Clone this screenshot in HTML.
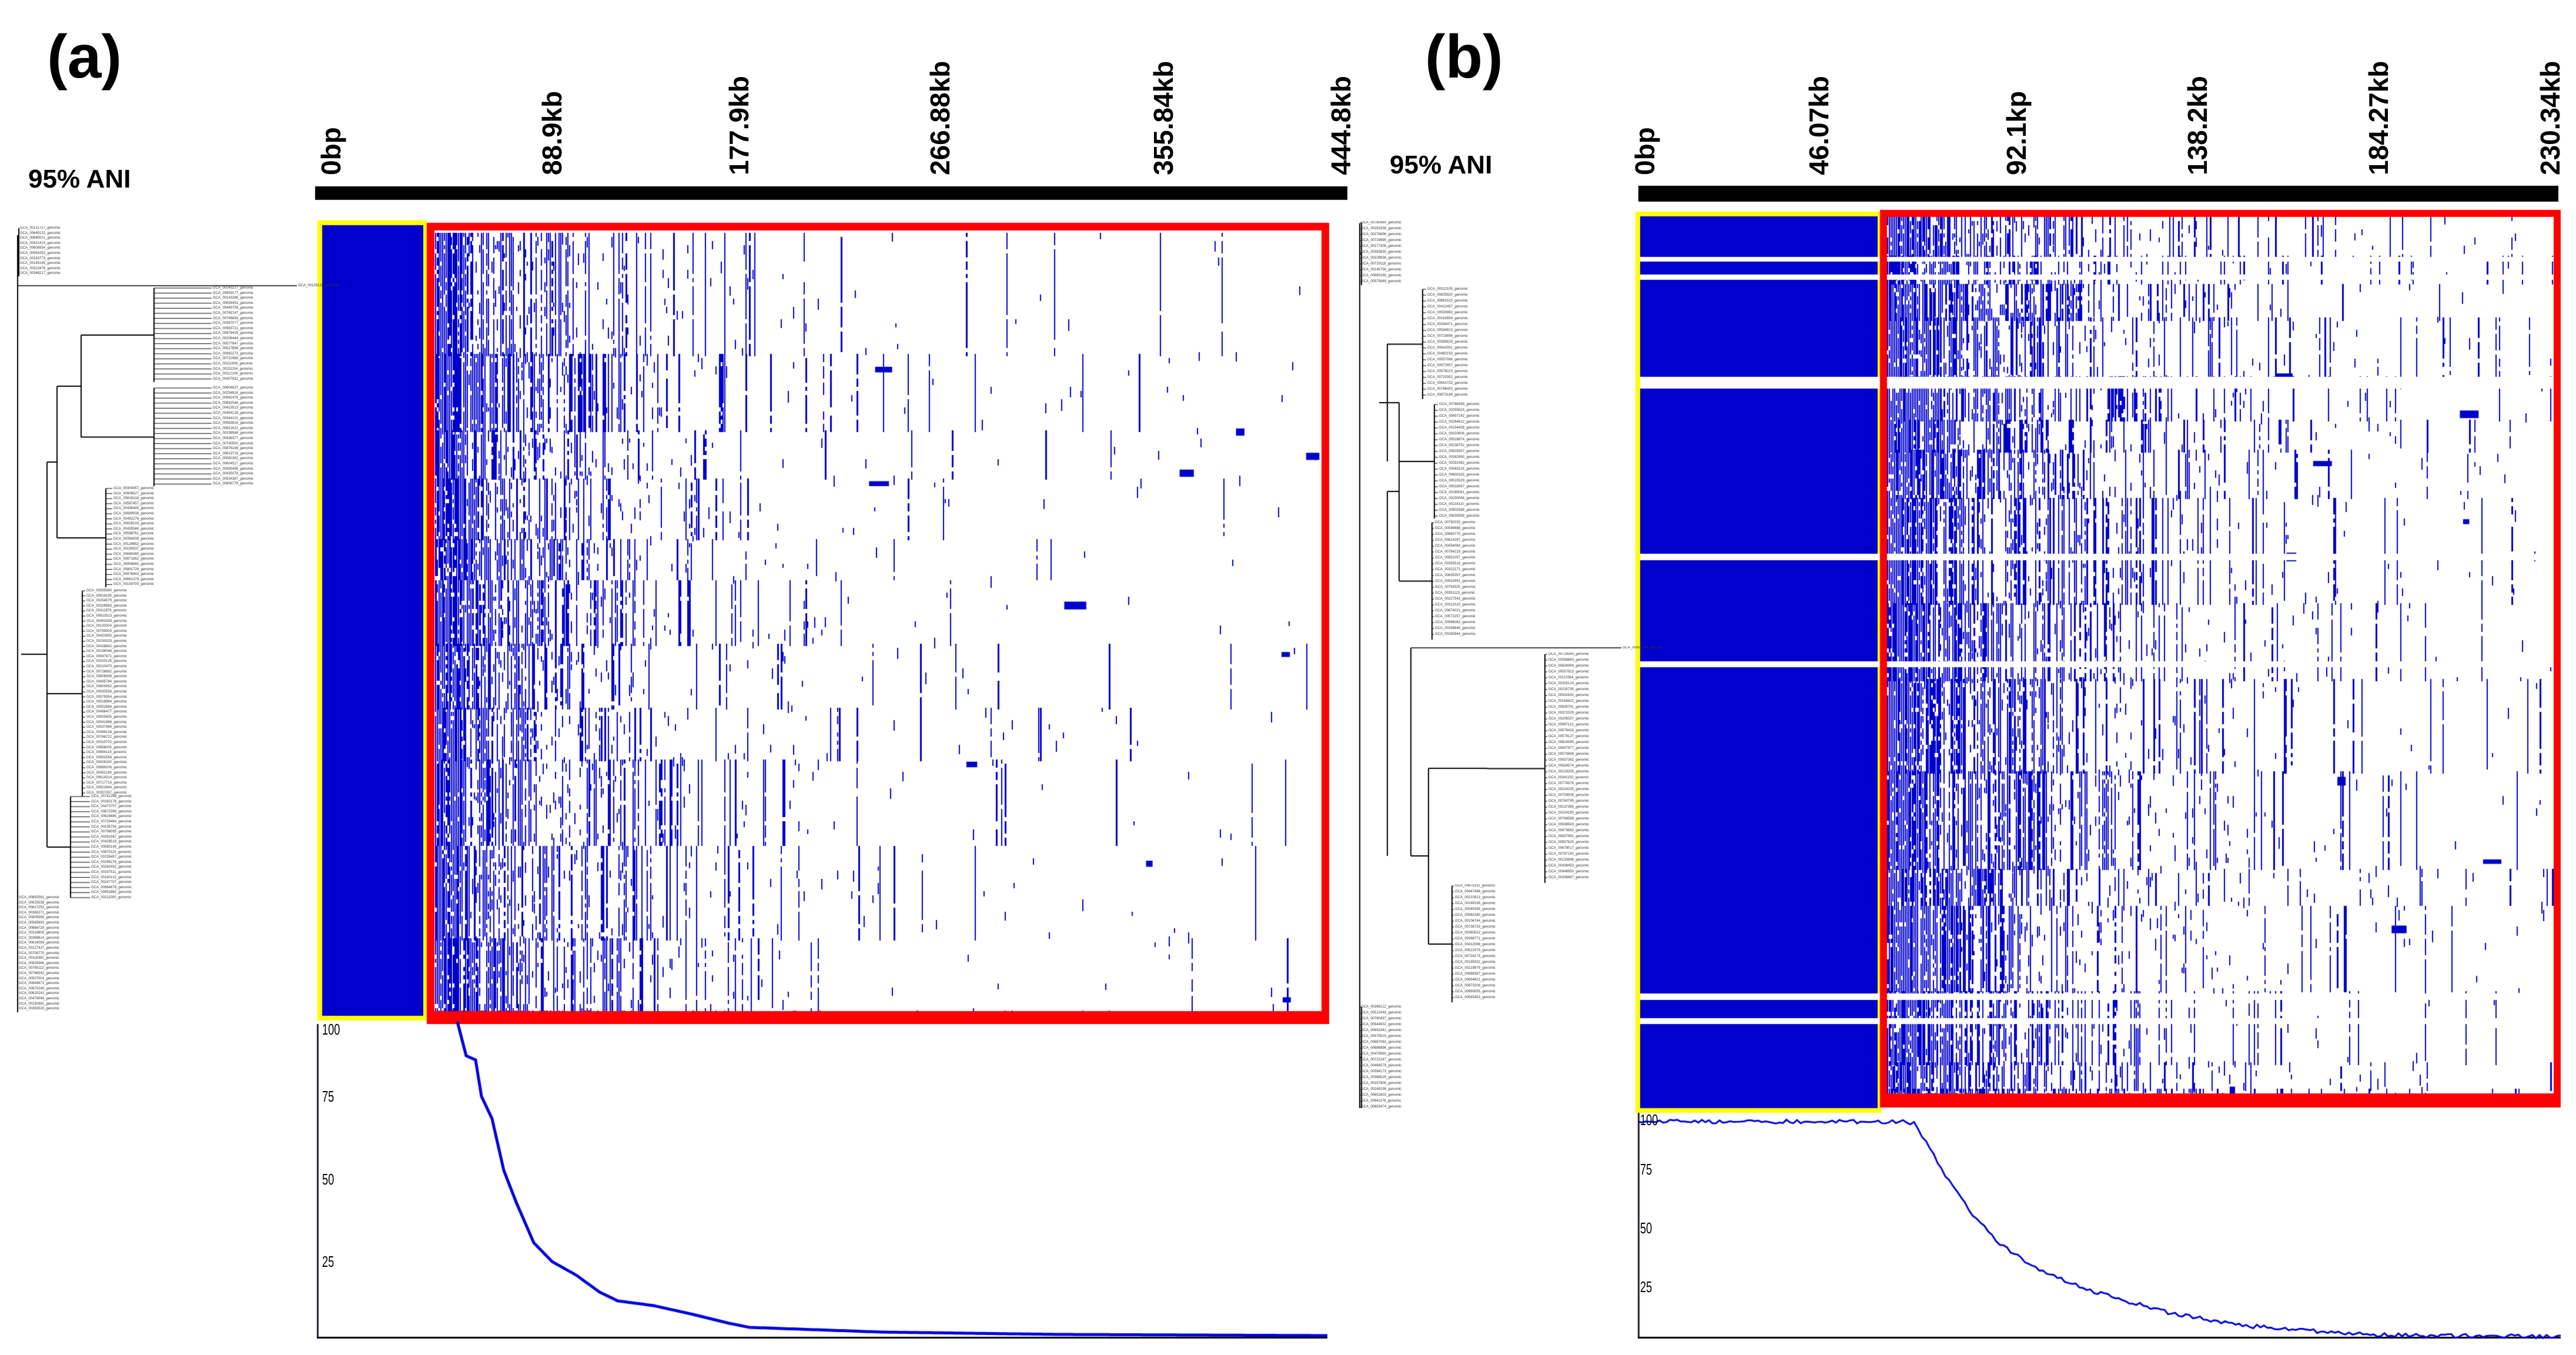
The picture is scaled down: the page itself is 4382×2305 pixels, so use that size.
<!DOCTYPE html>
<html><head><meta charset="utf-8">
<style>
html,body{margin:0;padding:0;background:#fff;}
body{width:4382px;height:2305px;position:relative;overflow:hidden;font-family:"Liberation Sans",sans-serif;}
#cv{position:absolute;left:0;top:0;}
.t{position:absolute;font-weight:bold;color:#000;white-space:nowrap;}
.tick{position:absolute;font-weight:bold;font-size:46px;white-space:nowrap;transform-origin:0 0;transform:rotate(-90deg);}
.ax{position:absolute;font-size:26px;color:#000;transform:scaleX(0.7);transform-origin:0 0;}
#labels{position:absolute;left:0;top:0;}
.lb{position:absolute;font-size:6px;line-height:6px;color:#333;white-space:nowrap;}
</style></head><body>
<canvas id="cv" width="4382" height="2305"></canvas>
<div id="labels"></div>

<div class="t" style="left:80px;top:38px;font-size:104px;">(a)</div>
<div class="t" style="left:48px;top:280px;font-size:44px;">95% ANI</div>
<div class="t" style="left:2424px;top:38px;font-size:104px;">(b)</div>
<div class="t" style="left:2364px;top:256px;font-size:44px;">95% ANI</div>

<div class="tick" style="left:536px;top:298px;">0bp</div>
<div class="tick" style="left:912px;top:298px;">88.9kb</div>
<div class="tick" style="left:1230px;top:298px;">177.9kb</div>
<div class="tick" style="left:1572px;top:298px;">266.88kb</div>
<div class="tick" style="left:1952px;top:298px;">355.84kb</div>
<div class="tick" style="left:2254px;top:298px;">444.8kb</div>

<div class="tick" style="left:2771px;top:298px;">0bp</div>
<div class="tick" style="left:3067px;top:298px;">46.07kb</div>
<div class="tick" style="left:3403px;top:298px;">92.1kp</div>
<div class="tick" style="left:3711px;top:298px;">138.2kb</div>
<div class="tick" style="left:4019px;top:298px;">184.27kb</div>
<div class="tick" style="left:4311px;top:298px;">230.34kb</div>

<div class="ax" style="left:548px;top:1736px;">100</div>
<div class="ax" style="left:548px;top:1850px;">75</div>
<div class="ax" style="left:548px;top:1991px;">50</div>
<div class="ax" style="left:548px;top:2131px;">25</div>

<div class="ax" style="left:2790px;top:1890px;">100</div>
<div class="ax" style="left:2790px;top:1974px;">75</div>
<div class="ax" style="left:2790px;top:2074px;">50</div>
<div class="ax" style="left:2790px;top:2174px;">25</div>

<script>
(function(){
var c=document.getElementById('cv').getContext('2d');
var s=12345;function R(){s|=0;s=s+0x6D2B79F5|0;var t=Math.imul(s^s>>>15,1|s);t=t+Math.imul(t^t>>>7,61|t)^t;return((t^t>>>14)>>>0)/4294967296;}
var BL='#0000cc';
function rect(x,y,w,h,col){c.fillStyle=col;c.fillRect(x,y,w,h);}
rect(536,317,1756,23,'#000');
rect(2787,316,1565,27,'#000');

function heat(x0,x1,y0,y1,solidW,fx){
  var y=y0;
  while(y<y1){
    var bh=40+Math.floor(R()*170); if(y+bh>y1)bh=y1-y;
    var rows=[];for(var yy=y;yy<y+bh;yy+=7)rows.push(yy);
    for(var x=x0;x<x1;x+=3){
      var t=(x-x0)/(x1-x0);
      var p=x<x0+solidW?1.0:fx(t);
      var present=R()<p;
      var w=R()<0.3?3:2;
      if(present){
        var q=0.8+0.2*R();
        for(var i=0;i<rows.length;i++){ if(R()<q) rect(x,rows[i],w,7,BL); }
      } else {
        var pd=p*0.12;
        for(var i=0;i<rows.length;i++){ if(R()<pd) rect(x,rows[i],2,7+Math.floor(R()*14),BL); }
      }
    }
    y+=bh;
  }
  for(var k=0;k<10;k++){var bx=x0+(x1-x0)*(0.4+0.6*R()),by=y0+(y1-y0)*R();rect(bx,by,8+R()*30,7+R()*8,BL);}
}
heat(740,2248,396,1720,45,function(t){return 0.95*Math.exp(-t/0.13)+0.012;});
heat(3210,4344,369,1860,50,function(t){return 0.95*Math.exp(-t/0.22)+0.02;});

rect(540,375,186,1361,'#ffff00');rect(548,383,172,1345,BL);
rect(2782,360,418,1533,'#ffff00');rect(2790,368,404,1517,BL);
var gaps=[[437,8],[467,9],[641,20],[942,11],[1125,10],[1690,11],[1732,10]];
gaps.forEach(function(g){rect(2790,g[0],1554,g[1],'#fff');});
rect(726,379,1535,13,'#f00');rect(726,379,13,1362,'#f00');rect(2248,379,13,1362,'#f00');rect(726,1720,1535,22,'#f00');
rect(3198,357,1158,12,'#f00');rect(3198,357,12,1527,'#f00');rect(4344,357,12,1527,'#f00');rect(3198,1860,1158,24,'#f00');

rect(539,1742,3,535,'#223');rect(539,2274,1719,3,'#000');
rect(2786,1893,3,384,'#223');rect(2786,2274,1570,3,'#000');
function curve(pts,lw,jit){
  c.strokeStyle='#0000dd';c.lineWidth=lw;c.beginPath();c.moveTo(pts[0][0],pts[0][1]);
  for(var i=1;i<pts.length;i++){
    var a=pts[i-1],b=pts[i],n=Math.max(1,Math.floor((b[0]-a[0])/6));
    for(var k=1;k<=n;k++){var x=a[0]+(b[0]-a[0])*k/n,y=a[1]+(b[1]-a[1])*k/n;c.lineTo(x,y+(jit?(R()-0.5)*jit:0));}
  }
  c.stroke();
}
curve([[778,1738],[793,1796],[809,1803],[819,1865],[837,1903],[857,1991],[878,2045],[908,2114],[939,2146],[980,2169],[1020,2198],[1051,2213],[1112,2221],[1179,2236],[1240,2251],[1275,2258],[1500,2266],[1800,2270],[2258,2272]],5,0);
curve([[2787,1908],[3243,1908],[3256,1911],[3283,1955],[3309,1999],[3349,2058],[3402,2117],[3469,2161],[3562,2198],[3694,2234],[3827,2256],[4026,2271],[4356,2274]],3,7);

var L=document.getElementById('labels'),html='';
function lab(x,y){var n=Math.floor(R()*900000+100000);html+='<div class="lb" style="left:'+x+'px;top:'+(y-3)+'px">GCA_00'+n+'_genomic</div>';}
c.strokeStyle='#000';
function line(x1,y1,x2,y2,w){c.lineWidth=w||1.5;c.beginPath();c.moveTo(x1,y1);c.lineTo(x2,y2);c.stroke();}
function group(vx,lx,y0,y1,pitch,backX){
  for(var y=y0;y<=y1;y+=pitch){lab(lx+2,y);line(vx,y,lx,y,1);}
  line(vx,y0,vx,y1,2);var mid=(y0+y1)/2;line(backX,mid,vx,mid,2);return mid;
}
group(32,32,388,470,8.6,30);
group(262,360,490,650,8.6,138);
group(262,360,660,827,8.6,138);
line(138,570,138,744,2);line(97,657,138,657,2);
group(180,191,831,999,8.6,97);
line(97,657,97,915,2);line(80,786,97,786,2);
group(140,145,1005,1355,8.6,80);
group(120,153,1355,1527,8.6,80);
line(80,786,80,1441,2);line(36,1113,80,1113,2);
group(30,30,1527,1722,8.6,30);
line(30,400,30,1722,2);
line(30,486,505,486,1.5);lab(507,486);
group(2316,2313,379,485,10,2313);
group(2420,2426,492,679,10,2360);
group(2440,2446,688,882,10,2380);
line(2360,585,2360,785,2);line(2346,685,2380,685,2);
group(2436,2439,889,1088,10,2380);
line(2380,685,2380,988,2);line(2360,836,2380,836,2);
group(2628,2632,1113,1502,10,2530);
group(2470,2473,1507,1705,10,2430);
line(2430,1307,2530,1307,2);line(2430,1307,2430,1606,2);
line(2400,1456,2430,1456,2);line(2360,836,2360,1456,2);line(2400,1102,2400,1456,2);
line(2400,1102,2758,1102,1.5);lab(2760,1102);
group(2316,2313,1713,1885,10,2313);
line(2313,380,2313,1885,2);
L.innerHTML=html;
})();
</script>
</body></html>
